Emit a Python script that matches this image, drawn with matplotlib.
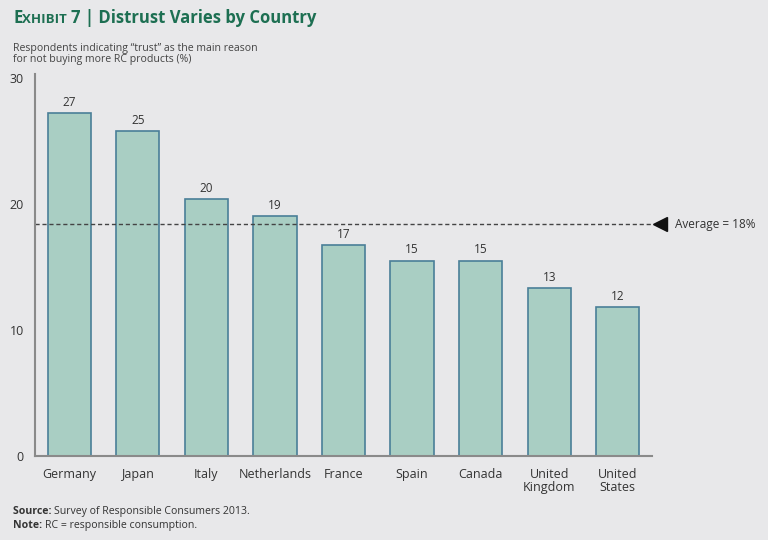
import matplotlib.pyplot as plt

# Dados
paises = ['Germany', 'Japan', 'Italy', 'Netherlands', 'France', 'Spain',
          'Canada', 'United\nKingdom', 'United\nStates']
valores = [27.2, 25.8, 20.4, 19.0, 16.7, 15.5, 15.5, 13.3, 11.8]
rotulos = ['27', '25', '20', '19', '17', '15', '15', '13', '12']
media = 18.4
yticks = [0, 10, 20, 30]

FUNDO = '#e8e8ea'
VERDE = '#1d6f52'
TEXTO = '#333333'

plt.rcParams['font.family'] = ['Open Sans', 'DejaVu Sans']

fig = plt.figure(figsize=(7.68, 5.4), dpi=100, facecolor=FUNDO)
ax = fig.add_axes([0.0456, 0.1556, 0.8034, 0.7074], facecolor=FUNDO)


def texto_em_partes(x, y, partes, **kw):
    """Escreve pedacos de texto em sequencia na mesma linha (coords da figura)"""
    renderer = fig.canvas.get_renderer()
    for s, props in partes:
        t = fig.text(x, y, s, va='baseline', **kw, **props)
        bb = t.get_window_extent(renderer=renderer)
        x += bb.width / fig.bbox.width


x = range(len(paises))
ax.bar(x, valores, width=0.63, color='#a9cec3', edgecolor='#4a7f98', linewidth=1.2)

for i, (v, r) in enumerate(zip(valores, rotulos)):
    ax.annotate(r, (i, v), xytext=(0, 3), textcoords='offset points',
                ha='center', va='bottom', fontsize=8.5, color=TEXTO)

ax.set_xlim(-0.5, 8.5)
ax.set_ylim(0, 30.3)
ax.set_xticks(list(x))
ax.set_xticklabels(paises, fontsize=9, color=TEXTO, linespacing=0.95)
ax.set_yticks(yticks)
ax.set_yticklabels([str(t) for t in yticks], fontsize=9, color=TEXTO)
ax.tick_params(axis='x', length=0, pad=9)
ax.tick_params(axis='y', length=0, pad=8)

for s in ['top', 'right']:
    ax.spines[s].set_visible(False)
for s in ['left', 'bottom']:
    ax.spines[s].set_color('#8a8a8a')
    ax.spines[s].set_linewidth(1.5)

# linha da media
ax.plot([-0.5, 8.5], [media, media], linestyle=(0, (3, 2)), color='#444444',
        linewidth=1, clip_on=False)
ax.plot([8.62], [media], marker='<', markersize=10, color='#111111', clip_on=False)
ax.text(8.84, media, 'Average = 18%', va='center', ha='left', fontsize=8.5, color=TEXTO)

# titulo
texto_em_partes(0.017, 0.957, [
    ('E', dict(fontsize=12)),
    ('XHIBIT ', dict(fontsize=9.5)),
    ('7 | Distrust Varies by Country', dict(fontsize=12)),
], color=VERDE, fontweight='bold')

fig.text(0.017, 0.90, 'Respondents indicating \u201ctrust\u201d as the main reason\n'
         'for not buying more RC products (%)', fontsize=7.6, color='#444444',
         va='center', linespacing=0.95)

texto_em_partes(0.017, 0.048, [
    ('Source: ', dict(fontweight='bold')),
    ('Survey of Responsible Consumers 2013.', dict()),
], fontsize=7.6, color=TEXTO)
texto_em_partes(0.017, 0.022, [
    ('Note: ', dict(fontweight='bold')),
    ('RC = responsible consumption.', dict()),
], fontsize=7.6, color=TEXTO)

fig.savefig('out.png', dpi=100, facecolor=FUNDO)
